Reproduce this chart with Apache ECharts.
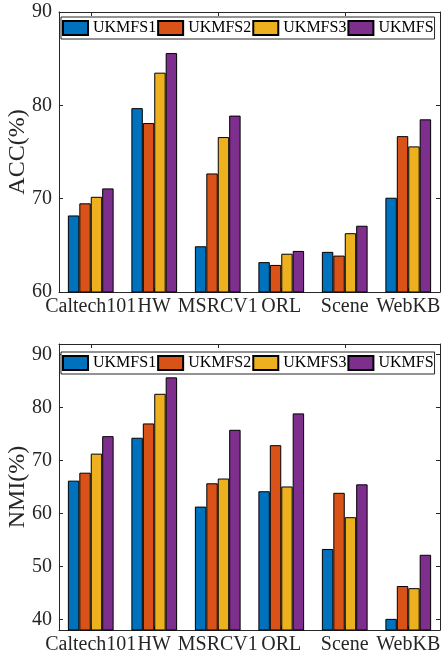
<!DOCTYPE html>
<html>
<head>
<meta charset="utf-8">
<script src="https://cdn.jsdelivr.net/npm/echarts@6/dist/echarts.min.js"></script>
<style>
  html, body { margin: 0; padding: 0; background: #fff; }
  #chart { width: 441px; height: 662px; }
</style>
</head>
<body>
<div id="chart"></div>
<script>
// data
const datasets = ['Caltech101', 'HW', 'MSRCV1', 'ORL', 'Scene', 'WebKB']
const methods = ['UKMFS1', 'UKMFS2', 'UKMFS3', 'UKMFS']
const colors = ['#0072BD', '#D95319', '#EDB120', '#7E2F8E']

const accUKMFS1 = [68.2, 79.7, 64.9, 63.2, 64.3, 70.1]
const accUKMFS2 = [69.5, 78.1, 72.7, 62.9, 63.9, 76.7]
const accUKMFS3 = [70.2, 83.5, 76.6, 64.1, 66.3, 75.6]
const accUKMFS  = [71.1, 85.6, 78.9, 64.4, 67.1, 78.5]

const nmiUKMFS1 = [66.2, 74.3, 61.3, 64.2, 53.3, 40.1]
const nmiUKMFS2 = [67.7, 77.0, 65.7, 72.9, 63.9, 46.3]
const nmiUKMFS3 = [71.3, 82.6, 66.6, 65.1, 59.3, 45.9]
const nmiUKMFS  = [74.6, 85.7, 75.8, 78.9, 65.5, 52.2]

const accTicks = [60, 70, 80, 90]
const nmiTicks = [40, 50, 60, 70, 80, 90]

const font = 'Liberation Serif'
const axisColor = '#262626'

const accData = [accUKMFS1, accUKMFS2, accUKMFS3, accUKMFS]
const nmiData = [nmiUKMFS1, nmiUKMFS2, nmiUKMFS3, nmiUKMFS]

function xAxes(grid) {
  const line = { show: true, lineStyle: { color: axisColor, width: 1 } }
  const tick = { show: true, inside: true, length: 4, alignWithLabel: true, lineStyle: { color: axisColor } }
  return [
    {
      type: 'category', gridIndex: grid, data: datasets, position: 'bottom',
      axisLine: line, axisTick: tick,
      axisLabel: { interval: 0, hideOverlap: false, color: axisColor, fontFamily: font, fontSize: 20, margin: 5 }
    },
    {
      type: 'category', gridIndex: grid, data: datasets, position: 'top',
      axisLine: line, axisTick: tick, axisLabel: { show: false }
    }
  ]
}

function yAxes(grid, min, max, ticks, name) {
  const line = { show: true, lineStyle: { color: axisColor, width: 1 } }
  const tick = { show: true, inside: true, length: 4, customValues: ticks, lineStyle: { color: axisColor } }
  return [
    {
      type: 'value', gridIndex: grid, min, max, position: 'left',
      name, nameLocation: 'middle', nameGap: 29, nameMoveOverlap: false,
      nameTextStyle: { fontFamily: font, fontSize: 24, color: axisColor },
      axisLine: line, axisTick: tick, splitLine: { show: false },
      axisLabel: { customValues: ticks, color: axisColor, fontFamily: font, fontSize: 20, margin: 7 }
    },
    {
      type: 'value', gridIndex: grid, min, max, position: 'right',
      axisLine: line, axisTick: tick, splitLine: { show: false },
      axisLabel: { show: false }
    }
  ]
}

function legendAt(top) {
  return {
    data: methods, left: 61, top, orient: 'horizontal', icon: 'rect',
    itemWidth: 25, itemHeight: 14, itemGap: 1, padding: [3, 1],
    borderColor: axisColor, borderWidth: 1, backgroundColor: '#fff',
    textStyle: { fontFamily: font, fontSize: 16, color: '#000' },
    selectedMode: false
  }
}

function barSeries(data, xi, yi) {
  return methods.map((m, i) => ({
    name: m, type: 'bar', xAxisIndex: xi, yAxisIndex: yi,
    data: data[i], barWidth: '18%', barGap: '0%',
    itemStyle: { color: colors[i], borderColor: '#000', borderWidth: 1 }
  }))
}

const option = {
  animation: false,
  color: colors,
  grid: [
    { left: 59, width: 381, top: 12, height: 280, containLabel: false, outerBoundsMode: 'none' },
    { left: 59, width: 381, top: 344, height: 286, containLabel: false, outerBoundsMode: 'none' }
  ],
  legend: [legendAt(17), legendAt(352)],
  xAxis: [...xAxes(0), ...xAxes(1)],
  yAxis: [...yAxes(0, 60, 90, accTicks, 'ACC(%)'), ...yAxes(1, 38, 92, nmiTicks, 'NMI(%)')],
  series: [...barSeries(accData, 0, 0), ...barSeries(nmiData, 2, 2)]
}

const chart = echarts.init(document.getElementById('chart'))
chart.setOption(option)
window.addEventListener('resize', () => { chart.resize() })
</script>
</body>
</html>
